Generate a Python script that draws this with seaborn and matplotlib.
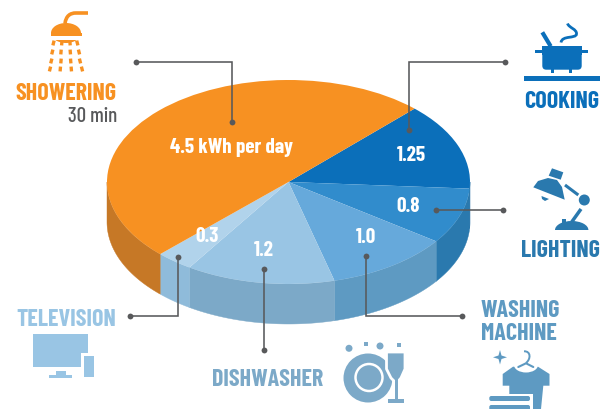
import numpy as np
import matplotlib
matplotlib.use("Agg")
import matplotlib.pyplot as plt
from matplotlib.patches import Circle, Ellipse, Polygon, Rectangle, FancyBboxPatch, PathPatch
from matplotlib.path import Path
import seaborn as sns

sns.set_theme(style="white")
plt.rcParams["font.family"] = ["Barlow Condensed", "Roboto", "DejaVu Sans"]

# ---- data (clockwise from the top-right edge of the orange slice) ----
categories = ["Cooking", "Lighting", "Washing machine", "Dishwasher", "Television", "Showering"]
kwh_per_day = [1.25, 0.8, 1.0, 1.2, 0.3, 4.5]
value_labels = ["1.25", "0.8", "1.0", "1.2", "0.3", "4.5 kWh per day"]
top_colors = ["#0B6FBA", "#318CCC", "#66A9DB", "#99C5E4", "#B1D3EB", "#F79122"]
side_colors = ["#0A5E9C", "#2A79AE", "#5E9AC2", "#7CA9C8", "#8FBBDA", "#C67826"]

W, H = 613, 410
CX, CY, RX, RY, DEPTH = 288.5, 183, 181.5, 102, 40
GRAY = "#58595B"

fig = plt.figure(figsize=(W / 100, H / 100), dpi=100, facecolor="white")
ax = fig.add_axes([0, 0, 1, 1])
wedges, _ = ax.pie(kwh_per_day, colors=top_colors, startangle=46, counterclock=False,
                   radius=1, center=(0, 0), wedgeprops={"linewidth": 0, "zorder": 3})
ax.set_aspect("auto")
ax.set_xlim(-CX / RX, (W - CX) / RX)
ax.set_ylim((CY - H) / RY, CY / RY)
ax.axis("off")

# side wall, from the same values
d = DEPTH / RY
fractions = np.array(kwh_per_day) / np.sum(kwh_per_day)
edges = 46 - 360 * np.concatenate([[0], np.cumsum(fractions)])
for a0, a1, c in zip(edges[:-1], edges[1:], side_colors):
    t = np.radians(np.linspace(a0, a1, 200))
    t = t[np.sin(t) <= 0.001]
    if t.size < 2:
        continue
    xs = np.cos(t)
    ys = np.sin(t)
    ax.fill(np.r_[xs, xs[::-1]], np.r_[ys, ys[::-1] - d], color=c, lw=0.3, zorder=2)

# overlay in pixel coordinates for the infographic furniture
ov = fig.add_axes([0, 0, 1, 1], facecolor="none")
ov.set_xlim(0, W)
ov.set_ylim(H, 0)
ov.axis("off")


def leader(pts):
    xs, ys = zip(*pts)
    ov.plot(xs, ys, color=GRAY, lw=1.15, solid_joinstyle="miter", zorder=6)
    ov.plot([xs[0], xs[-1]], [ys[0], ys[-1]], "o", color=GRAY, ms=4.2, mew=0, zorder=6)


leader([(135.5, 63), (231.5, 63), (231.5, 122.5)])
leader([(504.5, 63), (408.5, 63), (408.5, 131)])
leader([(503, 211), (436, 211)])
leader([(462, 317), (366, 317), (366, 257)])
leader([(264, 351), (264, 269.5)])
leader([(130, 317), (178, 317), (178, 257.5)])

VAL = dict(color="white", fontweight="bold", ha="center", va="center", zorder=7)
value_pos = [(411, 156), (408, 207), (366, 238), (263.5, 251), (207, 237), (231.5, 148)]
for s, (x, y) in zip(value_labels, value_pos):
    ov.text(x, y, s, fontsize=15.2, **VAL)

HEAD = dict(fontweight="bold", va="center", fontsize=17.3, zorder=7)
ov.text(117, 94, "SHOWERING", color="#F79122", ha="right", **HEAD)
ov.text(117, 117, "30 min", color=GRAY, ha="right", va="center", fontsize=15, fontweight="medium")
ov.text(561.5, 102, "COOKING", color="#0B6FBA", ha="center", **HEAD)
ov.text(560.5, 251, "LIGHTING", color="#2A79AE", ha="center", **HEAD)
ov.text(481, 311, "WASHING", color="#5E9AC2", ha="left", **HEAD)
ov.text(481, 334, "MACHINE", color="#5E9AC2", ha="left", **HEAD)
ov.text(212, 380, "DISHWASHER", color="#7CA9C8", ha="left", **HEAD)
ov.text(16, 320, "TELEVISION", color="#99C5E4", ha="left", **HEAD)


def rect(x0, y0, x1, y1, c, z=5):
    ov.add_patch(Rectangle((x0, y0), x1 - x0, y1 - y0, color=c, lw=0, zorder=z))


def poly(pts, c, z=5):
    ov.add_patch(Polygon(pts, color=c, lw=0, zorder=z))


def curve(verts, c, lw, z=5):
    codes = [Path.MOVETO] + [Path.CURVE4] * (len(verts) - 1)
    ov.add_patch(PathPatch(Path(verts, codes), fc="none", ec=c, lw=lw, capstyle="butt", zorder=z))


# shower
OR = "#F79122"
ov.add_patch(Ellipse((66, 34), 30, 20, color=OR, lw=0, zorder=5))
rect(66 - 15.5, 33.5, 66 + 15.5, 36.7, OR)
rect(40, 36.7, 95, 41, "white", 5)
curve([(65, 24.5), (66, 17), (70, 14), (76, 14), (80, 14), (84, 14), (88, 14)], OR, 2.6)
rows = [(44, [53.5, 61.8, 70, 77.3]), (53, [52.3, 61, 70.3, 79]),
        (62, [51.3, 61, 70.7, 80]), (70, [50, 60.3, 71.3, 82])]
for y, xs in rows:
    for x, dx in zip(xs, [-0.6, -0.2, 0.2, 0.6]):
        ov.plot([x - dx, x + dx], [y - 2.4, y + 2.4], color=OR, lw=2.4, solid_capstyle="butt", zorder=5)

# cooking
BL = "#0B6FBA"
rect(524, 77.3, 600, 81.7, BL)
ov.add_patch(FancyBboxPatch((542.3, 47.3), 39.4, 23.4, boxstyle="round,pad=0,rounding_size=4", color=BL, lw=0, zorder=5))
rect(542.3, 47.3, 581.7, 56, BL)
rect(535, 51, 588.3, 54.3, BL)
rect(550.7, 70, 554, 73.5, BL)
rect(568.7, 70, 572, 73.5, BL)
ov.plot([542.3, 550.7], [33.3, 47.3], color=BL, lw=3, solid_capstyle="butt", zorder=5)
curve([(567.5, 24.5), (569, 29), (577, 30), (576.5, 35), (576, 40), (562, 36), (561, 43.5)], BL, 2.0)

# lighting
LG = "#2A79AE"
poly([(533.3, 188.3), (538, 182), (548, 179), (557, 181), (562, 188), (564.7, 200.7)], LG)
poly([(552, 169.3), (563.3, 173.3), (560.7, 180.7), (548.7, 176.7)], LG)
poly([(541.5, 197), (549, 200), (545, 202), (542, 200)], LG)
ov.plot([565, 578.3], [186, 196], color=LG, lw=2.2, solid_capstyle="butt", zorder=5)
ov.add_patch(Circle((584.3, 201), 5.5, color=LG, lw=0, zorder=5))
ov.plot([581, 571.7], [210, 223], color=LG, lw=2.5, solid_capstyle="butt", zorder=5)
ov.add_patch(Ellipse((571.7, 231), 33.4, 18, color=LG, lw=0, zorder=5))
rect(553, 230.5, 590, 241, "white", 6)
rect(562, 220, 565.5, 226, LG)

# television
TV = "#99C5E4"
poly([(33, 335), (87.7, 335), (87.7, 354.3), (81.3, 354.3), (81.3, 368), (33, 368)], TV)
rect(84, 357, 94, 377.7, TV)
rect(55.7, 371.7, 65.7, 376, TV)
rect(49, 375.7, 72.3, 379.3, TV)

# dishwasher
DW = "#7CA9C8"
ov.add_patch(Circle((368, 379), 24.5, color=DW, lw=0, zorder=5))
ov.add_patch(Circle((369, 378.5), 13.5, fc="none", ec="white", lw=1.8, zorder=5))
ov.add_patch(Polygon([(386.5, 353), (405, 353), (405, 370), (401, 379), (397.5, 383), (395, 383), (391, 379), (386.5, 370)],
                     fc=DW, ec="white", lw=2, zorder=6, joinstyle="round"))
ov.plot([396.3, 396.3], [382, 402], color="white", lw=5.5, solid_capstyle="butt", zorder=5.5)
rect(395, 380, 397.6, 402, DW, 6)
rect(388.3, 400.3, 404, 403.5, DW, 6)
ov.add_patch(Circle((349, 349.3), 3.5, color=DW, lw=0, zorder=5))
ov.add_patch(Circle((380, 347), 3.5, color=DW, lw=0, zorder=5))
rect(363.7, 343, 367.7, 347, DW)
rect(397, 344, 401, 348, DW)

# washing machine
WM = "#5E9AC2"
poly([(513, 367.7), (538, 367.7), (549.5, 375), (549.5, 386.7), (543.3, 386.7), (541, 410), (509.3, 410), (509.3, 386.7), (502.7, 386.7), (502.7, 375)], WM)
ov.add_patch(Ellipse((526, 366), 24, 15, color="white", lw=0, zorder=5))
ov.plot([518.3, 526, 533.3], [368, 364.3, 368], color=WM, lw=1.5, zorder=6)
curve([(524, 352.3), (531, 352), (531, 360), (526, 364)], WM, 1.4, 6)
poly([(500, 351), (501.5, 356.5), (507, 358.3), (501.5, 360), (500, 365.5), (498.5, 360), (493, 358.3), (498.5, 356.5)], WM)
rect(486, 394.5, 533, 410, "white", 5)
ov.add_patch(FancyBboxPatch((489.3, 397), 40.7, 5, boxstyle="round,pad=0,rounding_size=2", color=WM, lw=0, zorder=6))
ov.add_patch(FancyBboxPatch((489.3, 406), 40.7, 6, boxstyle="round,pad=0,rounding_size=2", color=WM, lw=0, zorder=6))

fig.savefig("out.png", dpi=100, facecolor="white")
